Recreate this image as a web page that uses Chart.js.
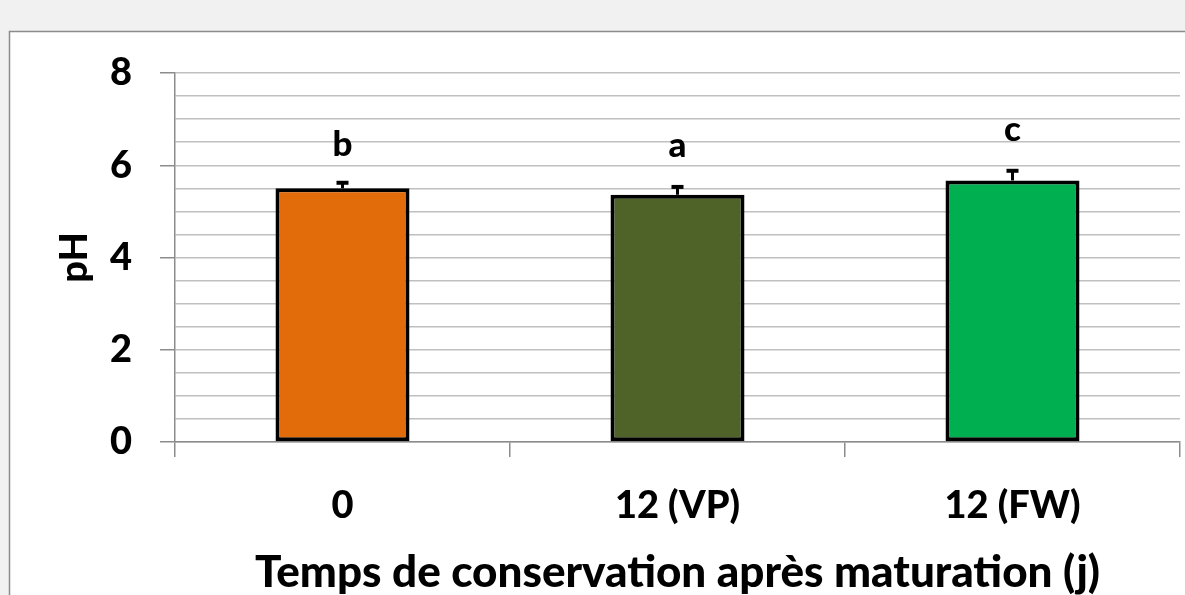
<!DOCTYPE html>
<html>
<head>
<meta charset="utf-8">
<script src="https://cdn.jsdelivr.net/npm/chart.js@4"></script>
<style>
  html, body { margin: 0; padding: 0; background: #f1f1f1; }
  #wrap { width: 1185px; height: 595px; }
</style>
</head>
<body>
<div id="wrap"><canvas id="myChart" width="1185" height="595"></canvas></div>
<script>
// donnees
const categories = ["0", "12 (VP)", "12 (FW)"];
const phValues = [5.50, 5.36, 5.67];
const phErrors = [0.12, 0.17, 0.21];
const letters = ["b", "a", "c"];
const letterValues = [6.45, 6.42, 6.78];
const barColors = ["#E36C0A", "#4F6228", "#00B050"];
const yTicks = [0, 2, 4, 6, 8];

const FONT = "Lato, 'Open Sans', sans-serif";

// fond gris + cadre blanc
const framePlugin = {
  id: "frame",
  beforeDraw(chart) {
    const ctx = chart.ctx;
    ctx.save();
    ctx.fillStyle = "#f1f1f1";
    ctx.fillRect(0, 0, chart.width, chart.height);
    ctx.fillStyle = "#ffffff";
    ctx.fillRect(10, 32, chart.width - 10, chart.height - 32);
    ctx.strokeStyle = "#8c8c8c";
    ctx.lineWidth = 1.5;
    ctx.beginPath();
    ctx.moveTo(9.5, chart.height);
    ctx.lineTo(9.5, 31.5);
    ctx.lineTo(chart.width, 31.5);
    ctx.stroke();
    ctx.restore();
  },
};

// barres d'erreur + lettres
const errorPlugin = {
  id: "errors",
  afterDatasetsDraw(chart) {
    const ctx = chart.ctx;
    const y = chart.scales.y;
    const meta = chart.getDatasetMeta(0);
    ctx.save();
    meta.data.forEach((bar, i) => {
      const x = bar.x;
      const top = y.getPixelForValue(phValues[i] + phErrors[i]);
      const base = y.getPixelForValue(phValues[i]);
      ctx.strokeStyle = "#000";
      ctx.lineWidth = 3;
      ctx.beginPath();
      ctx.moveTo(x, base);
      ctx.lineTo(x, top);
      ctx.stroke();
      ctx.lineWidth = 4;
      ctx.beginPath();
      ctx.moveTo(x - 6, top);
      ctx.lineTo(x + 6, top);
      ctx.stroke();

      ctx.fillStyle = "#000";
      ctx.font = "900 35px " + FONT;
      ctx.textAlign = "center";
      ctx.textBaseline = "middle";
      ctx.fillText(letters[i], x, y.getPixelForValue(letterValues[i]));
    });
    ctx.restore();
  },
};

new Chart(document.getElementById("myChart"), {
  type: "bar",
  data: {
    labels: categories,
    datasets: [
      {
        label: "pH",
        data: phValues,
        backgroundColor: barColors,
        borderColor: "#000",
        borderWidth: 4,
        borderSkipped: false,
        barPercentage: 0.4,
        categoryPercentage: 1,
      },
    ],
  },
  options: {
    responsive: false,
    animation: false,
    layout: { padding: { left: 0, top: 73, right: 5, bottom: 0 } },
    plugins: { legend: { display: false }, tooltip: { enabled: false } },
    scales: {
      x: {
        grid: {
          drawOnChartArea: false,
          offset: true,
          color: "#8c8c8c",
          tickLength: 15,
          lineWidth: 1.5,
        },
        border: { color: "#8c8c8c", width: 1.5 },
        ticks: {
          color: "#000",
          font: { family: FONT, size: 38, weight: "900" },
          padding: 26,
        },
        title: {
          display: true,
          text: "Temps de conservation après maturation (j)",
          color: "#000",
          font: { family: FONT, size: 44, weight: "900", lineHeight: 1 },
          padding: { top: 0, bottom: 0 },
        },
        afterFit(scale) {
          scale.height = 153;
        },
      },
      y: {
        min: 0,
        max: 8,
        grid: {
          color: "#c0c0c0",
          lineWidth: 1.5,
          tickLength: 15,
          tickColor: (c) => (c.tick && yTicks.includes(c.tick.value) ? "#8c8c8c" : "rgba(0,0,0,0)"),
        },
        border: { color: "#8c8c8c", width: 1.5 },
        ticks: {
          stepSize: 0.5,
          autoSkip: false,
          color: "#000",
          font: { family: FONT, size: 38, weight: "900" },
          padding: 28,
          callback: (v) => (yTicks.includes(v) ? v : ""),
        },
        title: {
          display: true,
          text: "pH",
          color: "#000",
          font: { family: FONT, size: 38, weight: "900" },
          padding: { top: 52, bottom: 0 },
        },
        afterFit(scale) {
          scale.width = 175;
        },
      },
    },
  },
  plugins: [framePlugin, errorPlugin],
});
</script>
</body>
</html>
